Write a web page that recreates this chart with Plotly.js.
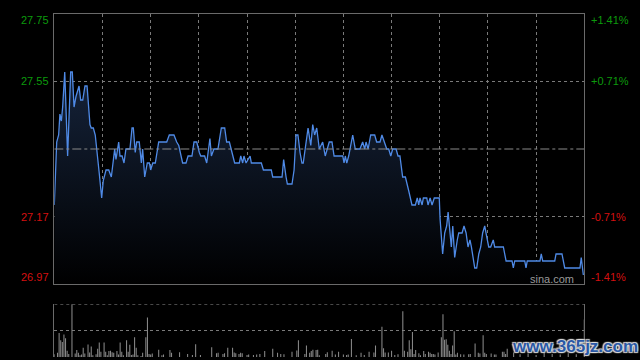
<!DOCTYPE html>
<html>
<head>
<meta charset="utf-8">
<script src="https://cdn.plot.ly/plotly-3.0.1.min.js"></script>
<style>html,body{margin:0;padding:0;background:#000;}#chart{width:640px;height:360px;}</style>
</head>
<body>
<div id="chart"></div>
<script>
// Intraday (HK session, minutes from 09:30; 0..150 morning, 150..330 afternoon)
const prevClose = 27.36;
const minutes = [0,1.5,2.7,3.5,4.4,5.2,6.5,7.3,8.3,10.2,11.2,12.3,13.5,15.4,16.4,17.7,19.1,20.4,22.2,23,24.3,25.5,26.8,28,29.5,30.5,32.2,33.9,35.5,36.7,37.6,38.4,40.1,40.9,42.2,43.4,44.6,47.1,48.4,49.2,50.4,51.3,52.9,54.2,55,56.3,57.9,59.2,60,61.3,62.9,65,70,71.6,74.5,76.2,77.5,79.9,82,83.3,85.7,87,88.7,90.3,91.2,93.6,94.9,96.9,97.8,99.4,101.9,104,106.1,107.3,109,112.3,115.2,116.1,117.3,118.1,119.4,121.9,122.7,128.9,130.2,135.1,136,141.8,142.8,144.3,145.1,148,149.3,150.5,151.7,153,154.2,155,156.3,158,159.7,160.9,162.1,163.4,165,167.1,168.7,171.2,172.9,174.2,179.6,180.4,181.2,182.1,183.3,185.8,187.4,190.3,192,193.3,194.1,195.4,197,199.5,200.7,202.8,204,205.3,207,208.2,209.5,210.7,212.8,214,215.2,216.9,218.6,220.7,222.7,224.8,226,226.9,227.7,229,229.8,231.9,232.7,234,235.2,236.6,239.7,240.2,241.8,243.1,244.3,245.2,246.4,247.2,248.1,249.3,250.9,251.8,253.9,255.1,256.4,257.6,258.8,259.7,261.8,263,264.3,265.5,266.7,268,269.2,270.5,271.7,273.3,274.2,279.6,281.3,285,285.8,286.7,292.9,293.7,294.5,302.4,303.2,304.1,311.6,312.4,316.1,317.8,327.3,328.1,329.4];
const prices = [27.20,27.38,27.40,27.46,27.44,27.48,27.58,27.46,27.34,27.58,27.58,27.48,27.51,27.54,27.50,27.50,27.54,27.54,27.43,27.42,27.42,27.40,27.33,27.29,27.22,27.27,27.30,27.30,27.28,27.33,27.36,27.33,27.38,27.34,27.34,27.32,27.36,27.36,27.42,27.42,27.35,27.38,27.38,27.32,27.36,27.28,27.32,27.32,27.30,27.32,27.32,27.38,27.38,27.40,27.40,27.38,27.37,27.32,27.32,27.34,27.34,27.38,27.38,27.35,27.34,27.34,27.32,27.39,27.34,27.36,27.36,27.42,27.42,27.38,27.38,27.32,27.32,27.34,27.32,27.34,27.32,27.34,27.32,27.32,27.30,27.30,27.28,27.28,27.33,27.28,27.26,27.26,27.30,27.40,27.40,27.35,27.32,27.32,27.37,27.42,27.37,27.43,27.40,27.42,27.36,27.38,27.34,27.38,27.38,27.34,27.34,27.32,27.34,27.32,27.34,27.40,27.36,27.36,27.38,27.36,27.38,27.36,27.40,27.40,27.38,27.38,27.40,27.38,27.36,27.36,27.34,27.36,27.36,27.34,27.34,27.28,27.28,27.24,27.20,27.20,27.22,27.20,27.22,27.20,27.22,27.22,27.20,27.22,27.20,27.22,27.22,27.16,27.06,27.12,27.14,27.18,27.12,27.08,27.14,27.05,27.10,27.12,27.12,27.14,27.12,27.08,27.10,27.08,27.02,27.02,27.06,27.08,27.12,27.14,27.11,27.08,27.08,27.10,27.08,27.08,27.04,27.04,27.02,27.04,27.04,27.02,27.04,27.04,27.06,27.04,27.04,27.06,27.06,27.02,27.02,27.05,27.00];

const volMinutes = [0,2,3,4,5,6,7,8,9,11,13,14,15,16,17,18,19,21,22,23,24,26,27,28,29,31,32,33,34,35,36,37,39,40,41,42,43,45,46,47,48,49,50,51,52,54,55,57,58,59,60,61,65,67,68,72,73,78,83,86,88,91,98,101,102,105,106,108,111,112,113,115,116,117,120,121,124,126,128,131,136,139,141,143,148,151,152,156,157,159,160,161,163,164,165,169,170,173,175,177,180,182,183,185,188,191,193,196,199,200,204,205,206,208,210,212,214,217,218,220,221,222,223,224,225,227,228,230,231,233,234,235,236,237,239,241,242,243,244,245,246,247,248,249,250,251,253,255,258,259,262,264,265,267,268,269,272,274,275,279,280,281,282,286,290,295,300,305,310,315,320,325,330];
const volValues = [8,12,69,48,43,65,54,18,9,160,10,20,12,5,7,27,10,36,13,30,5,8,24,42,15,42,15,5,17,18,14,12,17,7,42,15,5,48,15,35,6,7,57,27,5,3,12,57,114,9,7,10,21,5,7,20,12,14,9,6,37,6,28,11,12,9,11,27,27,13,11,9,12,11,6,7,6,7,9,17,24,12,9,8,15,19,48,9,33,12,17,21,20,21,5,9,14,18,7,15,7,6,7,52,5,12,6,15,13,33,87,25,13,13,18,6,8,132,18,15,48,22,72,9,20,11,5,17,9,15,12,9,9,7,13,57,123,50,51,35,18,9,33,74,7,12,8,7,8,9,39,12,10,63,12,9,10,7,7,15,15,9,24,13,8,10,6,12,9,7,11,8,108];

const priceTickLabels = ['27.75','27.55','27.17','26.97'];
const pctTickLabels = ['+1.41%','+0.71%','-0.71%','-1.41%'];
const pctSteps = [1.41, 0.71, -0.71, -1.41];

const yLo = prevClose * (1 - 0.0141), yHi = prevClose * (1 + 0.0141);
const gridVals = [prevClose * 1.0071, prevClose * 0.9929];

const W = 640, H = 360;
const xDom = [54.3 / W, 584.3 / W];

const traces = [
  {
    x: minutes, y: prices, type: 'scatter', mode: 'lines',
    line: {color: '#4f8ae6', width: 1.3},
    fill: 'tozeroy',
    fillgradient: {type: 'vertical', start: 26.97, stop: 27.6,
      colorscale: [[0, 'rgb(0,0,0)'], [1, 'rgb(22,36,60)']]},
    xaxis: 'x', yaxis: 'y', hoverinfo: 'skip'
  },
  {
    x: volMinutes, y: volValues, type: 'bar', width: 0.65,
    marker: {color: '#8a8a8a', line: {width: 0}},
    xaxis: 'x2', yaxis: 'y2', hoverinfo: 'skip'
  }
];

const annotations = [];
const labelShift = [-6, 0, 0, 7];
pctSteps.forEach((p, i) => {
  const v = prevClose * (1 + p / 100);
  const col = p > 0 ? '#0c9a0c' : '#d41010';
  annotations.push({xref: 'paper', yref: 'y', x: 51 / W, y: v, yshift: labelShift[i],
    text: priceTickLabels[i], showarrow: false, xanchor: 'right', yanchor: 'middle',
    font: {family: 'Liberation Sans, Arial, sans-serif', size: 11, color: col}});
  annotations.push({xref: 'paper', yref: 'y', x: 589 / W, y: v, yshift: labelShift[i],
    text: pctTickLabels[i], showarrow: false, xanchor: 'left', yanchor: 'middle',
    font: {family: 'Liberation Sans, Arial, sans-serif', size: 11, color: col}});
});
annotations.push({xref: 'paper', yref: 'paper', x: 552 / W, y: 1 - 279 / H, text: 'sina.com',
  showarrow: false, xanchor: 'center', yanchor: 'middle',
  font: {family: 'Liberation Sans, Arial, sans-serif', size: 11, color: '#9a9a9a'}});
annotations.push({xref: 'paper', yref: 'paper', x: 575 / W, y: 1 - 346 / H, text: '<b>www.365jz.com</b>',
  showarrow: false, xanchor: 'center', yanchor: 'middle',
  font: {family: 'Liberation Sans, Arial, sans-serif', size: 17, color: '#2a58a6',
    shadow: '1px 1px 1px #ddd, -1px -1px 1px #ddd, 1px -1px 1px #ddd, -1px 1px 1px #ddd'}});

const layout = {
  width: W, height: H,
  margin: {l: 0, r: 0, t: 0, b: 0, pad: 0},
  paper_bgcolor: '#000', plot_bgcolor: '#000',
  showlegend: false,
  xaxis: {domain: xDom, range: [0, 330], dtick: 30, tick0: 0, showgrid: true,
    griddash: 'dot', gridcolor: '#7a7a7a', gridwidth: 1, showticklabels: false, ticks: '',
    zeroline: false, showline: true, mirror: true, linecolor: '#6a6a6a', linewidth: 1, fixedrange: true},
  yaxis: {domain: [1 - 284 / H, 1 - 14 / H], range: [yLo, yHi], tickmode: 'array', tickvals: gridVals,
    showgrid: true, griddash: 'dot', gridcolor: '#7a7a7a', gridwidth: 1, showticklabels: false, ticks: '',
    zeroline: false, showline: true, mirror: true, linecolor: '#6a6a6a', linewidth: 1, fixedrange: true},
  xaxis2: {domain: xDom, range: [0, 330], anchor: 'y2', showgrid: false, showticklabels: false,
    ticks: '', zeroline: false, showline: false, fixedrange: true},
  yaxis2: {domain: [1 - 357 / H, 1 - 304.3 / H], range: [0, 152], anchor: 'x2', tickmode: 'array',
    tickvals: [76, 152], showgrid: true, griddash: 'dot', gridcolor: '#7a7a7a', gridwidth: 1,
    showticklabels: false, ticks: '', zeroline: false, showline: true, mirror: true,
    linecolor: '#6a6a6a', linewidth: 1, fixedrange: true},
  shapes: [
    {type: 'line', xref: 'x', yref: 'y', x0: 0, x1: 330, y0: prevClose, y1: prevClose,
      line: {color: '#8a8a8a', width: 1, dash: 'dashdot'}},
    {type: 'line', xref: 'x2', yref: 'y2', x0: 0, x1: 330, y0: 152, y1: 152,
      line: {color: '#7a7a7a', width: 1, dash: 'dot'}}
  ],
  annotations: annotations
};

Plotly.newPlot('chart', traces, layout, {staticPlot: true, displayModeBar: false});
</script>
</body>
</html>
